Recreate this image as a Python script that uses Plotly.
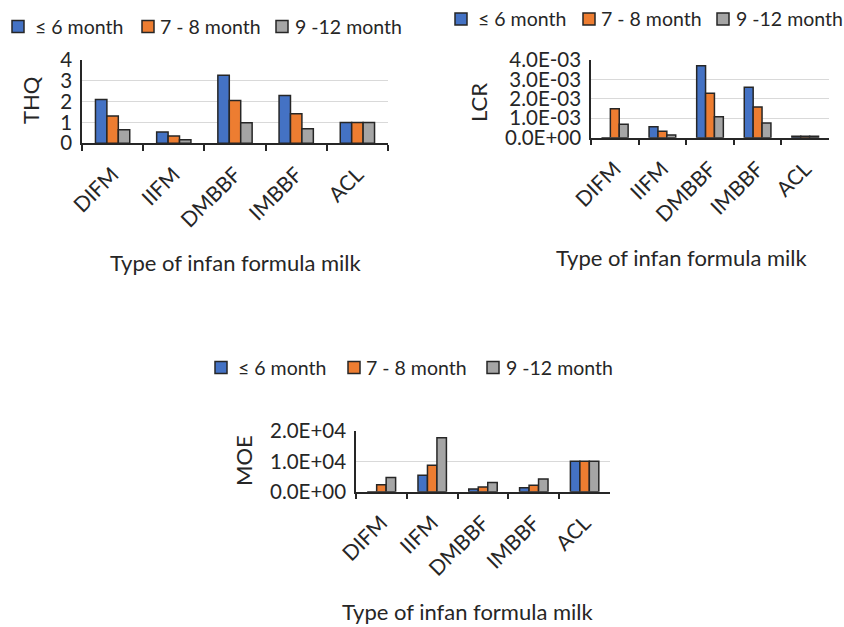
import plotly.graph_objects as go

# Categories and age groups
categories = ["DIFM", "IIFM", "DMBBF", "IMBBF", "ACL"]
age_groups = ["≤ 6 month", "7 - 8 month", "9 -12 month"]
colors = ["#4472C4", "#ED7D31", "#A5A5A5"]

# Target hazard quotient
thq_6 = [2.1, 0.54, 3.27, 2.3, 1.0]
thq_8 = [1.31, 0.35, 2.05, 1.42, 1.0]
thq_12 = [0.65, 0.17, 0.99, 0.70, 1.0]

# Lifetime cancer risk
lcr_6 = [0.0, 0.00057, 0.00371, 0.0026, 0.00008]
lcr_8 = [0.00149, 0.00033, 0.00229, 0.00158, 0.00008]
lcr_12 = [0.00069, 0.00014, 0.00108, 0.00076, 0.00008]

# Margin of exposure
moe_6 = [0, 5400, 900, 1300, 10000]
moe_8 = [2300, 8700, 1550, 2100, 10000]
moe_12 = [4700, 17800, 3000, 4200, 10000]

lcr_ticks = [0, 0.001, 0.002, 0.003, 0.004]
lcr_ticktext = ["0.0E+00", "1.0E-03", "2.0E-03", "3.0E-03", "4.0E-03"]
moe_ticks = [0, 10000, 20000]
moe_ticktext = ["0.0E+00", "1.0E+04", "2.0E+04"]

x_title = "Type of infan formula milk"

FONT = "Lato"
INK = "#262626"
W, H = 844, 627

fig = go.Figure()

panels = [
    ("x", "y", [thq_6, thq_8, thq_12]),
    ("x2", "y2", [lcr_6, lcr_8, lcr_12]),
    ("x3", "y3", [moe_6, moe_8, moe_12]),
]
for xa, ya, series in panels:
    for name, vals, col in zip(age_groups, series, colors):
        fig.add_trace(go.Bar(
            x=categories, y=vals, name=name, xaxis=xa, yaxis=ya,
            showlegend=False,
            marker=dict(color=col, line=dict(color=INK, width=1.5)),
        ))


def px_x(a, b):
    return [a / W, b / W]


def px_y(top, bottom):
    return [1 - bottom / H, 1 - top / H]


xaxis_common = dict(
    type="category", showline=True, linecolor=INK, linewidth=1.5,
    ticks="outside", tickson="boundaries", ticklen=6, tickcolor=INK,
    tickwidth=1.5, tickangle=-45, showgrid=False, automargin=False,
    ticklabelstandoff=9,
    tickfont=dict(family=FONT, size=21, color=INK),
)
yaxis_common = dict(
    showline=True, linecolor=INK, linewidth=1.5, ticks="",
    showgrid=True, gridcolor="#D9D9D9", gridwidth=1, zeroline=False,
    automargin=False, ticklabelstandoff=4,
    tickfont=dict(family=FONT, size=20.5, color=INK),
)

fig.update_layout(
    width=W, height=H,
    margin=dict(l=0, r=0, t=0, b=0, pad=0, autoexpand=False),
    paper_bgcolor="white", plot_bgcolor="white",
    barmode="group", bargap=0.44, bargroupgap=0,
    font=dict(family=FONT, color=INK),
    showlegend=False,
    xaxis=dict(xaxis_common, domain=px_x(82, 388), anchor="y"),
    yaxis=dict(yaxis_common, domain=px_y(60, 143.3), anchor="x",
               range=[0, 4], dtick=1),
    xaxis2=dict(xaxis_common, domain=px_x(591, 829), anchor="y2"),
    yaxis2=dict(yaxis_common, domain=px_y(60, 137.7), anchor="x2",
                range=[0, 0.004], tickvals=lcr_ticks, ticktext=lcr_ticktext),
    xaxis3=dict(xaxis_common, domain=px_x(356, 610), anchor="y3"),
    yaxis3=dict(yaxis_common, domain=px_y(431, 491.7), anchor="x3",
                range=[0, 20000], tickvals=moe_ticks, ticktext=moe_ticktext),
)

# Legend rows (swatch + label) above each chart, laid out in pixels
legend_rows = [
    (12, 26.5, [0, 130, 264]),
    (455, 19, [0, 128, 262]),
    (215, 367.5, [0, 133, 272]),
]
label_gap = [21, 16, 17]
SW = 12
for lx, ly, offsets in legend_rows:
    for name, col, off, gap in zip(age_groups, colors, offsets, label_gap):
        sx = lx + off
        fig.add_shape(
            type="rect", xref="paper", yref="paper",
            x0=sx / W, x1=(sx + SW) / W,
            y0=1 - (ly + SW / 2) / H, y1=1 - (ly - SW / 2) / H,
            fillcolor=col, line=dict(color=INK, width=1.5),
        )
        fig.add_annotation(
            x=(sx + gap) / W, y=1 - ly / H, xref="paper", yref="paper",
            text=name, showarrow=False, xanchor="left", yanchor="middle",
            font=dict(family=FONT, size=19.5, color=INK),
        )

# Axis titles
titles = [
    (236, 262, x_title, 0),
    (682, 258, x_title, 0),
    (468, 611, x_title, 0),
    (31, 100, "THQ", -90),
    (478, 103, "LCR", -90),
    (243, 461, "MOE", -90),
]
for cx, cy, text, ang in titles:
    fig.add_annotation(
        x=cx / W, y=1 - cy / H, xref="paper", yref="paper",
        text=text, showarrow=False, textangle=ang,
        xanchor="center", yanchor="middle",
        font=dict(family=FONT, size=22, color=INK),
    )

fig.write_html("out.html")
